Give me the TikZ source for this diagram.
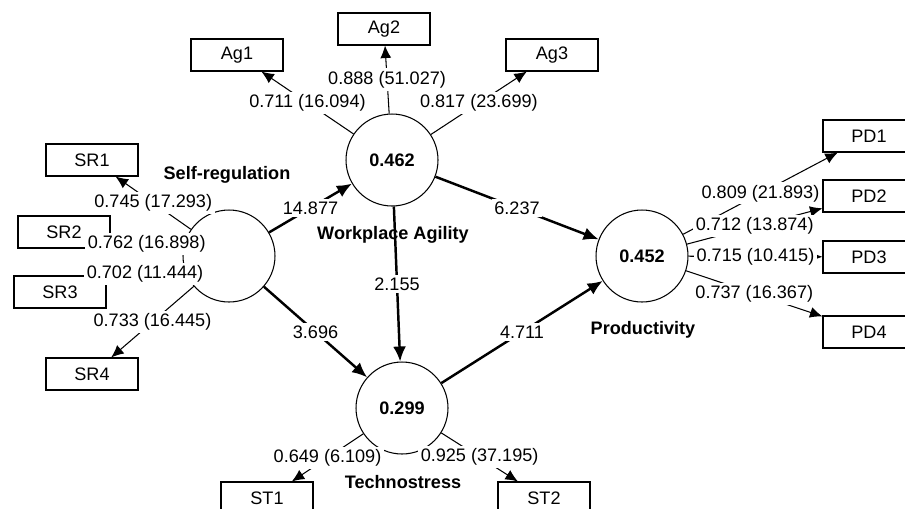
\documentclass[tikz,border=0pt]{standalone}
\usepackage{fontspec}
\setmainfont{Liberation Sans}
\usetikzlibrary{arrows.meta}

\begin{document}
\begin{tikzpicture}[x=0.02cm, y=-0.02cm,
  every node/.style={font=\fontsize{10.3}{12}\selectfont},
  latent/.style={draw, circle, line width=0.6pt, minimum size=1.84cm, inner sep=0pt, font=\fontsize{10.3}{12}\selectfont\bfseries},
  ind/.style={draw, rectangle, line width=0.6pt, minimum width=1.84cm, minimum height=0.64cm, inner sep=0pt},
  lvname/.style={font=\fontsize{10.3}{12}\selectfont\bfseries},
  coef/.style={fill=white, inner sep=1.5pt},
  load/.style={-{Latex[length=0.25cm,width=0.22cm]}, line width=0.6pt},
  effect/.style={-{Latex[length=0.3cm,width=0.26cm]}, line width=1.4pt}
]
  \useasboundingbox (0,0) rectangle (905,508);

  % latent variables
  \node[latent] (sr) at (229,256) {};
  \node[latent] (wa) at (392,160) {0.462};
  \node[latent] (pd) at (642,256) {0.452};
  \node[latent] (ts) at (402,408) {0.299};

  % indicators
  \node[ind] (ag1) at (237,55) {Ag1};
  \node[ind] (ag2) at (384,29) {Ag2};
  \node[ind] (ag3) at (552,55) {Ag3};
  \node[ind] (sr1) at (92,160) {SR1};
  \node[ind] (sr2) at (64,232) {SR2};
  \node[ind] (sr3) at (60,292) {SR3};
  \node[ind] (sr4) at (92,374) {SR4};
  \node[ind] (pd1) at (869,136) {PD1};
  \node[ind] (pd2) at (869,196) {PD2};
  \node[ind] (pd3) at (869,257) {PD3};
  \node[ind] (pd4) at (869,332) {PD4};
  \node[ind] (st1) at (267,498) {ST1};
  \node[ind] (st2) at (544,498) {ST2};

  % outer loadings
  \foreach \a/\b/\v in {wa/ag1/{0.711 (16.094)}, wa/ag2/{0.888 (51.027)}, wa/ag3/{0.817 (23.699)},
      sr/sr1/{0.745 (17.293)}, sr/sr2/{0.762 (16.898)}, sr/sr3/{0.702 (11.444)}, sr/sr4/{0.733 (16.445)},
      pd/pd1/{0.809 (21.893)}, pd/pd2/{0.712 (13.874)}, pd/pd3/{0.715 (10.415)}, pd/pd4/{0.737 (16.367)},
      ts/st1/{0.649 (6.109)}, ts/st2/{0.925 (37.195)}}
    \draw[load] (\a) -- node[coef] {\v} (\b);

  % inner model
  \foreach \a/\b/\v in {sr/wa/14.877, sr/ts/3.696, wa/ts/2.155, wa/pd/6.237, ts/pd/4.711}
    \draw[effect] (\a) -- node[coef] {\v} (\b);

  % names
  \node[lvname] (srname) at (227,175) {Self-regulation};
  \node[lvname] (waname) at (393,235) {Workplace Agility};
  \node[lvname] (pdname) at (643,330) {Productivity};
  \node[lvname] (tsname) at (403,482) {Technostress};
\end{tikzpicture}
\end{document}
